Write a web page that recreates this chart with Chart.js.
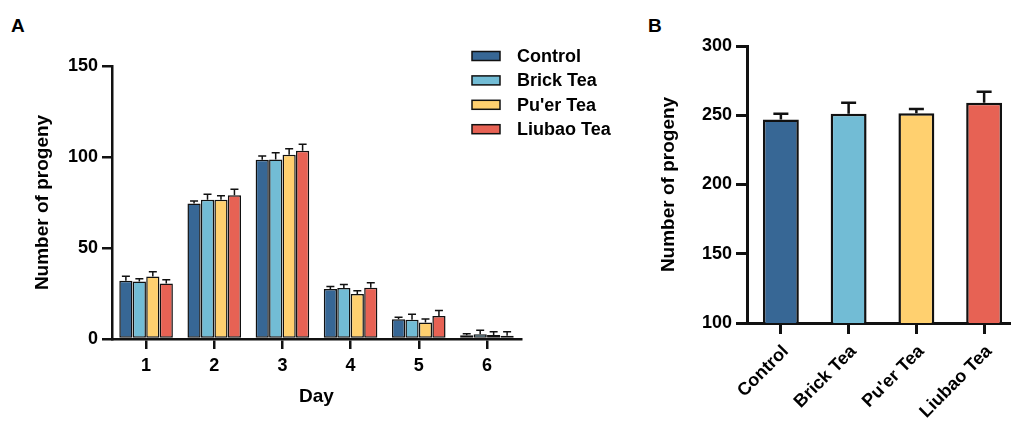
<!DOCTYPE html>
<html>
<head>
<meta charset="utf-8">
<script src="https://cdn.jsdelivr.net/npm/chart.js@4.4.1/dist/chart.umd.min.js"></script>
<style>
    html, body { margin: 0; padding: 0; background: #fff; overflow: hidden; }
    body { width: 1011px; height: 424px; position: relative; }
    #chartA { position: absolute; left: 0; top: 0; }
    #chartB { position: absolute; left: 640px; top: 0; }
    .panel-label { position: absolute; font: bold 19px "Liberation Sans", Arial, sans-serif; color: #000; }
</style>
</head>
<body>
<div class="panel-label" style="left:11px; top:15px;">A</div>
<div class="panel-label" style="left:648px; top:15px;">B</div>
<canvas id="chartA" width="640" height="424"></canvas>
<canvas id="chartB" width="378" height="424"></canvas>
<script>
// Panel A: progeny per day
const days = ['1', '2', '3', '4', '5', '6'];
const controlDay = [32, 74.5, 98.5, 27.5, 10.8, 2];
const controlDayErr = [2.5, 1.3, 2, 1.3, 1.1, 0.9];
const brickDay = [31.6, 76.5, 98.6, 28, 10.6, 2.6];
const brickDayErr = [1.5, 3.1, 3.8, 2, 3, 2.2];
const puerDay = [34.4, 76.5, 101.2, 24.7, 9, 2.2];
const puerDayErr = [2.5, 2.2, 3.4, 1.8, 2, 1.8];
const liubaoDay = [30.5, 79, 103.5, 28.2, 12.6, 1.8];
const liubaoDayErr = [2, 3.3, 3.5, 2.7, 3, 2.2];
const yTicksA = [0, 50, 100, 150];

// Panel B: total progeny
const groups = ['Control', 'Brick Tea', "Pu'er Tea", 'Liubao Tea'];
const totals = [247, 251, 251.5, 259];
const totalsErr = [4, 8, 3, 8];
const yTicksB = [100, 150, 200, 250, 300];

const colors = ['#376795', '#72bcd5', '#ffd06f', '#e76254'];
const FONT = '"Liberation Sans", Arial, sans-serif';
const INK = '#111';

// Upward-only error bars with a cap
const errorBars = {
    id: 'errorBars',
    afterDatasetsDraw(chart, args, opts) {
        const ctx = chart.ctx;
        const yScale = chart.scales.y;
        chart.data.datasets.forEach((ds, i) => {
            const meta = chart.getDatasetMeta(i);
            meta.data.forEach((bar, j) => {
                const top = yScale.getPixelForValue(ds.data[j] + ds.errors[j]);
                ctx.save();
                ctx.strokeStyle = INK;
                ctx.lineWidth = opts.width;
                ctx.beginPath();
                ctx.moveTo(bar.x, bar.y);
                ctx.lineTo(bar.x, top);
                ctx.moveTo(bar.x - opts.cap / 2, top);
                ctx.lineTo(bar.x + opts.cap / 2, top);
                ctx.stroke();
                ctx.restore();
            });
        });
    }
};

// Floating legend inside panel A
const floatLegend = {
    id: 'floatLegend',
    afterDraw(chart, args, opts) {
        const ctx = chart.ctx;
        ctx.save();
        ctx.font = 'bold 18px ' + FONT;
        ctx.textBaseline = 'middle';
        chart.data.datasets.forEach((ds, i) => {
            const cy = opts.y + i * opts.gap;
            ctx.fillStyle = ds.backgroundColor;
            ctx.fillRect(opts.x, cy - 4.5, 28, 9);
            ctx.strokeStyle = INK;
            ctx.lineWidth = 1.5;
            ctx.strokeRect(opts.x, cy - 4.5, 28, 9);
            ctx.fillStyle = '#000';
            ctx.fillText(ds.label, opts.x + 45, cy + 1);
        });
        ctx.restore();
    }
};

const axisBase = (width, tickLen) => ({
    border: { display: true, color: INK, width: width },
    grid: { drawOnChartArea: false, drawTicks: true, tickLength: tickLen, color: INK, lineWidth: width, offset: false },
    ticks: { color: '#000', font: { family: FONT, size: 18, weight: 'bold' } }
});

const makeSeries = (label, data, errors, color, bw) => ({
    label: label,
    data: data,
    errors: errors,
    backgroundColor: color,
    borderColor: INK,
    borderWidth: bw,
    borderSkipped: false
});

const initPanelA = () => {
    const xA = axisBase(2.5, 10);
    xA.ticks.padding = 6;
    xA.title = { display: true, text: 'Day', color: '#000', font: { family: FONT, size: 19, weight: 'bold' }, padding: { top: 4, bottom: 16 } };
    xA.afterFit = (scale) => { scale.height = 85; };

    const yA = axisBase(2.5, 10);
    yA.min = 0;
    yA.max = 150;
    yA.afterBuildTicks = (scale) => { scale.ticks = yTicksA.map(v => ({ value: v })); };
    yA.ticks.padding = 4;
    yA.title = { display: true, text: 'Number of progeny', color: '#000', font: { family: FONT, size: 19, weight: 'bold' }, padding: { top: 31, bottom: 0 } };
    yA.afterFit = (scale) => { scale.width = 112; };

    new Chart(document.getElementById('chartA'), {
        type: 'bar',
        data: {
            labels: days,
            datasets: [
                makeSeries('Control', controlDay, controlDayErr, colors[0], 1.5),
                makeSeries('Brick Tea', brickDay, brickDayErr, colors[1], 1.5),
                makeSeries("Pu'er Tea", puerDay, puerDayErr, colors[2], 1.5),
                makeSeries('Liubao Tea', liubaoDay, liubaoDayErr, colors[3], 1.5)
            ]
        },
        options: {
            responsive: false,
            animation: false,
            devicePixelRatio: 1,
            datasets: { bar: { categoryPercentage: 0.79, barPercentage: 0.98 } },
            layout: { padding: { top: 66, right: 119, left: 0, bottom: 0 } },
            plugins: {
                legend: { display: false },
                tooltip: { enabled: false },
                errorBars: { width: 1.5, cap: 8 },
                floatLegend: { x: 472, y: 56, gap: 24.4 }
            },
            scales: { x: xA, y: yA }
        },
        plugins: [errorBars, floatLegend]
    });
};

const initPanelB = () => {
    const xB = axisBase(3, 11);
    xB.ticks.minRotation = 45;
    xB.ticks.maxRotation = 45;
    xB.ticks.padding = 7;
    xB.ticks.labelOffset = 5;
    xB.afterFit = (scale) => { scale.height = 101; };

    const yB = axisBase(3, 11);
    yB.min = 100;
    yB.max = 300;
    yB.afterBuildTicks = (scale) => { scale.ticks = yTicksB.map(v => ({ value: v })); };
    yB.ticks.padding = 4;
    yB.title = { display: true, text: 'Number of progeny', color: '#000', font: { family: FONT, size: 19, weight: 'bold' }, padding: { top: 17, bottom: 0 } };
    yB.afterFit = (scale) => { scale.width = 107; };

    new Chart(document.getElementById('chartB'), {
        type: 'bar',
        data: {
            labels: groups,
            datasets: [{
                label: 'Total',
                data: totals,
                errors: totalsErr,
                backgroundColor: colors,
                borderColor: INK,
                borderWidth: 2.5,
                borderSkipped: false
            }]
        },
        options: {
            responsive: false,
            animation: false,
            devicePixelRatio: 1,
            datasets: { bar: { categoryPercentage: 1, barPercentage: 0.53 } },
            layout: { padding: { top: 46, right: 0, left: 0, bottom: 0 } },
            plugins: {
                legend: { display: false },
                tooltip: { enabled: false },
                errorBars: { width: 2.5, cap: 15 }
            },
            scales: { x: xB, y: yB }
        },
        plugins: [errorBars]
    });
};

initPanelA();
initPanelB();
</script>
</body>
</html>
